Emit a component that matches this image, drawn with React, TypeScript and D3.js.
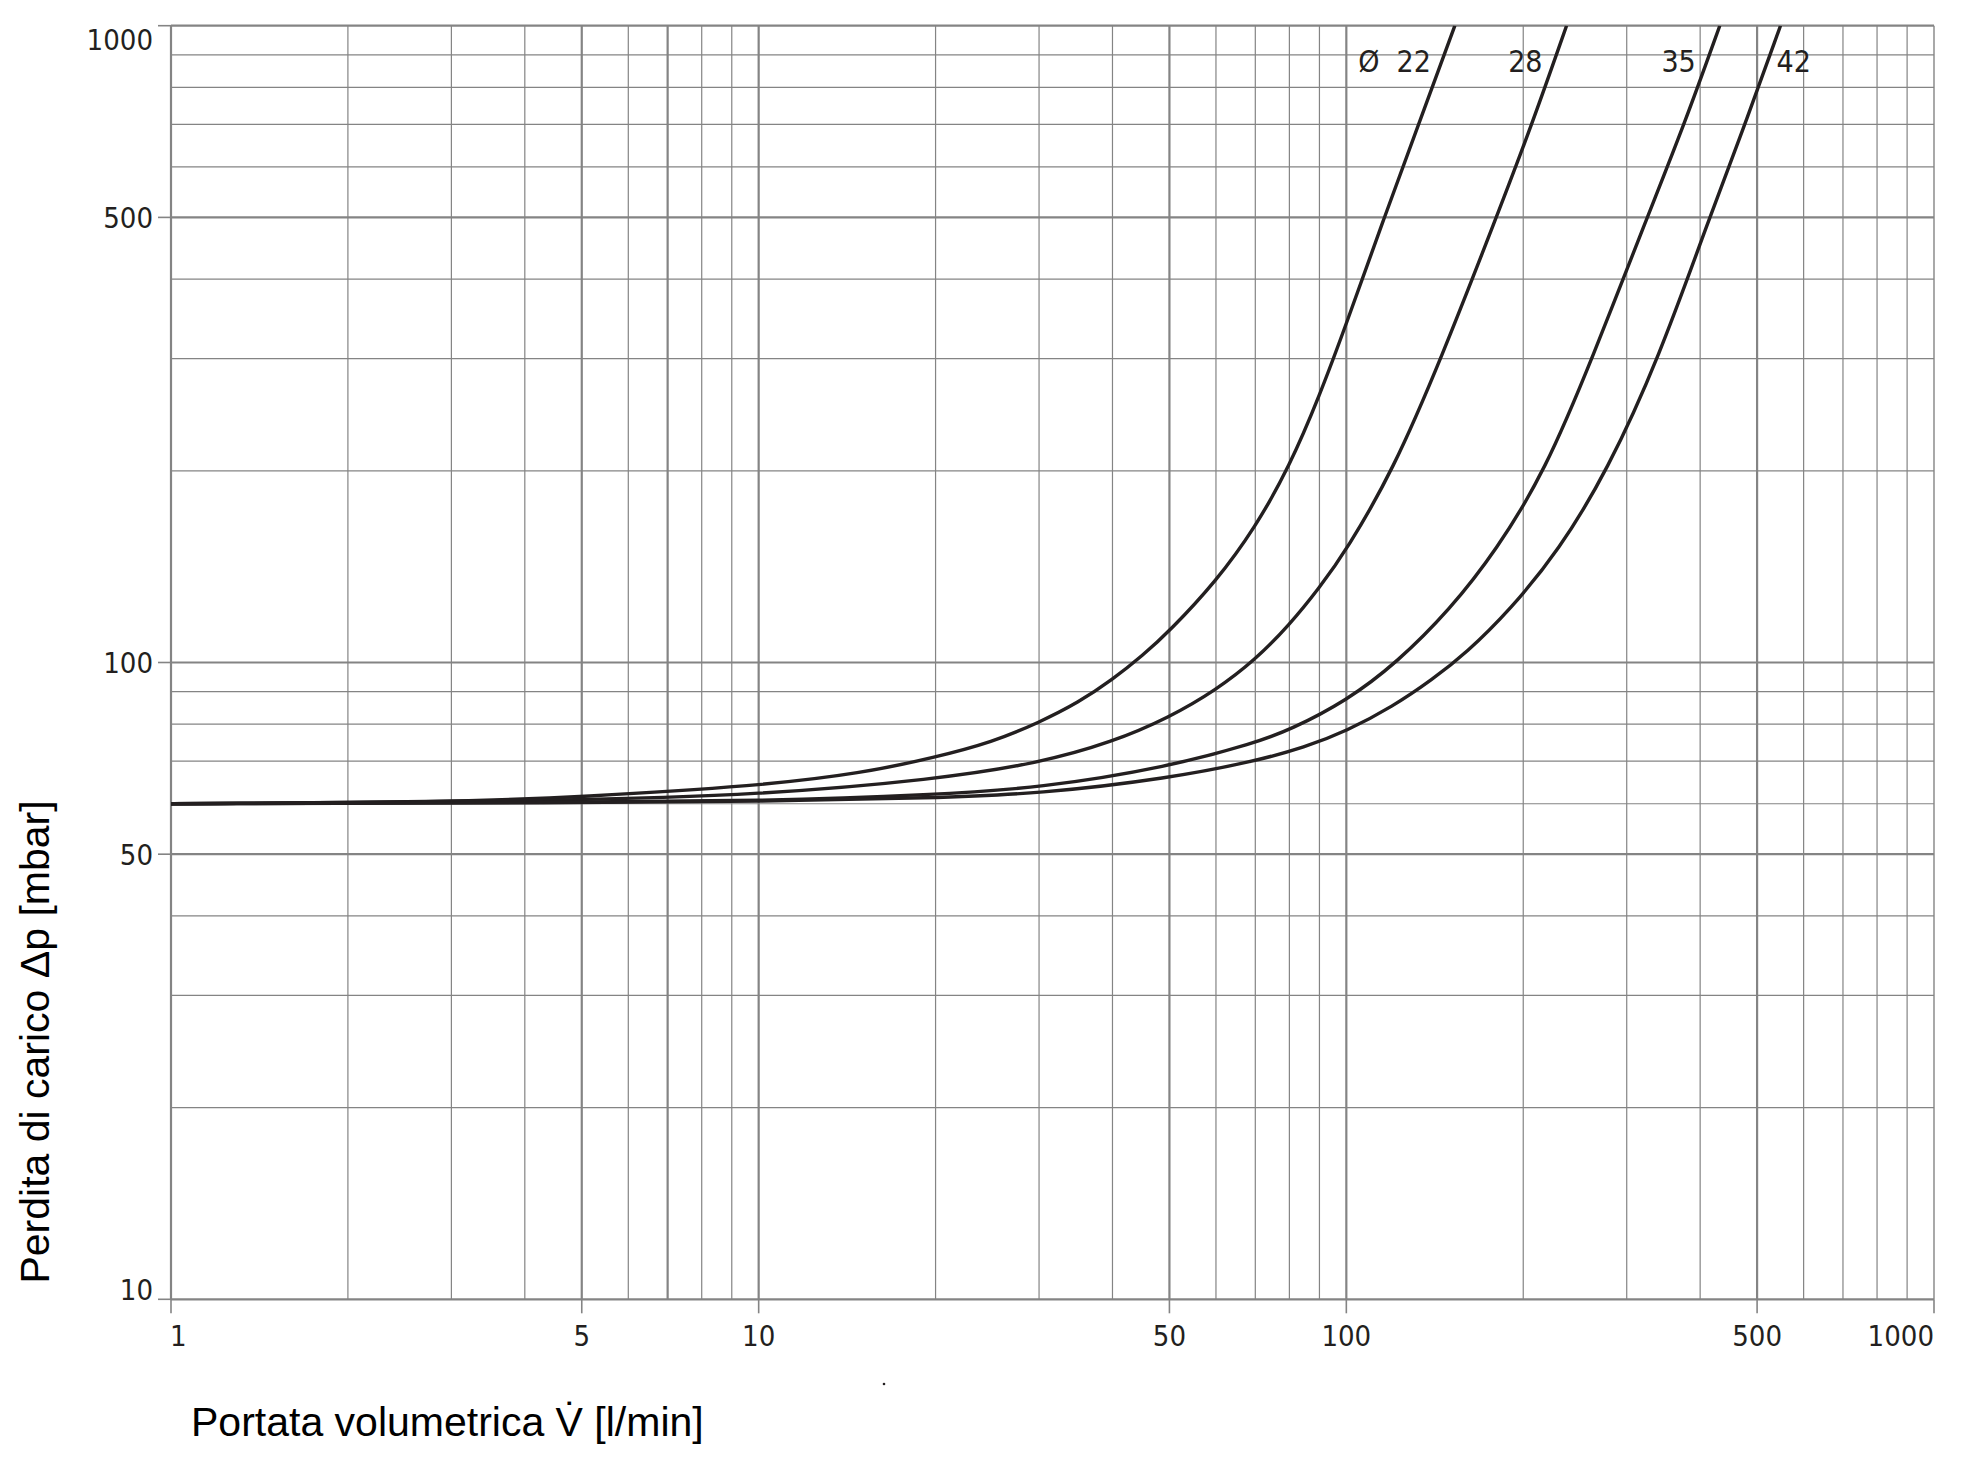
import React from "react";
import * as d3 from "d3";

// ---- data ----
const flowTicks = [1, 5, 10, 50, 100, 500, 1000];
const pressureTicks = [10, 50, 100, 500, 1000];
const flowMajorGrid = [1, 5, 7, 10, 50, 100, 500];
const pressureMajorGrid = [10, 50, 100, 500, 1000];

const seriesNames = ["Ø  22", "28", "35", "42"];

const flow22 = [1, 3, 5, 10, 15, 20, 25, 30, 35, 40, 45, 50, 60, 70, 80, 90, 100, 116, 135, 153];
const dp22 = [60, 60.4, 61.5, 64, 67, 71, 75, 80.5, 86.5, 94, 102.5, 112, 134, 163, 203, 262, 340, 500, 730, 1000];

const flow28 = [1, 5, 10, 20, 30, 40, 50, 60, 70, 80, 90, 100, 120, 145, 180, 207, 237];
const dp28 = [60, 60.7, 62, 65.5, 69.5, 75, 82, 90.5, 101, 114.5, 131, 150, 200, 300, 500, 700, 1000];

const flow35 = [1, 5, 10, 20, 30, 50, 70, 80, 100, 122, 150, 180, 218, 262, 325, 376, 432];
const dp35 = [60, 60.3, 60.6, 62, 63.5, 68.6, 74.8, 78.3, 87, 100, 121, 150, 200, 300, 500, 700, 1000];

const flow42 = [1, 5, 10, 20, 30, 50, 70, 85, 100, 120, 140, 160, 190, 230, 278, 340, 415, 477, 548];
const dp42 = [60, 60.2, 60.5, 61.3, 62.2, 65.8, 70, 73.6, 78, 85.3, 94, 103.5, 121, 150, 200, 300, 500, 700, 1000];

const seriesFlows = [flow22, flow28, flow35, flow42];
const seriesDps = [dp22, dp28, dp35, dp42];

// ---- layout ----
const W = 1973;
const H = 1465;
const left = 171;
const right = 1934;
const top = 25.7;
const bottom = 1299.3;

const gridColor = "#848484";
const inkColor = "#231f20";
const tickFont = "'Liberation Sans Narrow', 'DejaVu Sans Condensed', 'Arial Narrow', sans-serif";
const titleFont = "'Liberation Sans', Arial, Helvetica, sans-serif";

export default function App() {
  const x = d3.scaleLog().domain([1, 1000]).range([left, right]);
  const y = d3.scaleLog().domain([10, 1000]).range([bottom, top]);

  const minorX: number[] = [];
  for (let dec = 1; dec < 1000; dec *= 10) {
    for (let k = 2; k <= 9; k++) minorX.push(dec * k);
  }
  const minorY: number[] = [];
  for (let dec = 10; dec < 1000; dec *= 10) {
    for (let k = 2; k <= 9; k++) minorY.push(dec * k);
  }

  const line = d3
    .line<[number, number]>()
    .x((d) => x(d[0]))
    .y((d) => y(d[1]))
    .curve(d3.curveBasis);

  const series = seriesFlows.map((fl, i) =>
    fl.map((v, j) => [v, seriesDps[i][j]] as [number, number])
  );

  return (
    <svg
      width={W}
      height={H}
      style={{ position: "absolute", left: 0, top: 0, background: "#fff" }}
    >
      <defs>
        <clipPath id="plotClip">
          <rect x={left} y={top} width={right - left} height={bottom - top} />
        </clipPath>
      </defs>
      <rect x={0} y={0} width={W} height={H} fill="#fff" />

      {/* minor grid */}
      {minorX
        .filter((v) => !flowMajorGrid.includes(v))
        .map((v) => (
          <line key={"mx" + v} x1={x(v)} x2={x(v)} y1={top} y2={bottom} stroke={gridColor} strokeWidth={1.2} />
        ))}
      {minorY
        .filter((v) => !pressureMajorGrid.includes(v))
        .map((v) => (
          <line key={"my" + v} x1={left} x2={right} y1={y(v)} y2={y(v)} stroke={gridColor} strokeWidth={1.2} />
        ))}
      {/* right border */}
      <line x1={x(1000)} x2={x(1000)} y1={top} y2={bottom} stroke={gridColor} strokeWidth={1.4} />
      {/* major grid */}
      {flowMajorGrid.map((v) => (
        <line key={"Mx" + v} x1={x(v)} x2={x(v)} y1={top} y2={bottom} stroke={gridColor} strokeWidth={2.2} />
      ))}
      {pressureMajorGrid.map((v) => (
        <line key={"My" + v} x1={left} x2={right} y1={y(v)} y2={y(v)} stroke={gridColor} strokeWidth={2.2} />
      ))}

      {/* ticks */}
      {flowTicks.map((v) => (
        <line key={"tx" + v} x1={x(v)} x2={x(v)} y1={bottom} y2={bottom + 14} stroke={gridColor} strokeWidth={1.6} />
      ))}
      {pressureTicks.map((v) => (
        <line key={"ty" + v} x1={left - 13} x2={left} y1={y(v)} y2={y(v)} stroke={gridColor} strokeWidth={1.6} />
      ))}

      {/* curves */}
      <g clipPath="url(#plotClip)">
        {series.map((s, i) => (
          <path
            key={"c" + i}
            d={line(s) || ""}
            fill="none"
            stroke={inkColor}
            strokeWidth={3.4}
            strokeLinejoin="round"
          />
        ))}
      </g>

      {/* series labels */}
      {series.map((s, i) => {
        const last = s[s.length - 1];
        const xt = x(last[0]);
        const isLast = i === series.length - 1;
        return (
          <text
            key={"sl" + i}
            x={isLast ? xt - 4 : xt - 24}
            y={71.7}
            textAnchor={isLast ? "start" : "end"}
            fontFamily={tickFont}
            fontSize={30}
            fill={inkColor}
            xmlSpace="preserve"
            style={{ whiteSpace: "pre" }}
          >
            {seriesNames[i]}
          </text>
        );
      })}

      {/* y tick labels */}
      {pressureTicks.map((v) => {
        let yy = y(v) + 10.8;
        if (v === 1000) yy = y(v) + 24.3;
        if (v === 10) yy = y(v) + 0.7;
        return (
          <text
            key={"yl" + v}
            x={153}
            y={yy}
            textAnchor="end"
            fontFamily={tickFont}
            fontSize={29}
            fill={inkColor}
          >
            {v}
          </text>
        );
      })}

      {/* x tick labels */}
      {flowTicks.map((v, i) => {
        const anchor = i === 0 ? "start" : i === flowTicks.length - 1 ? "end" : "middle";
        const xx = i === 0 ? x(v) - 1 : x(v);
        return (
          <text
            key={"xl" + v}
            x={xx}
            y={1345.5}
            textAnchor={anchor}
            fontFamily={tickFont}
            fontSize={29}
            fill={inkColor}
          >
            {v}
          </text>
        );
      })}

      {/* axis titles */}
      <text x={191} y={1436} fontFamily={titleFont} fontSize={41} fill="#000">
        {"Portata volumetrica V\u0307 [l/min]"}
      </text>
      <text
        transform={`translate(48.5, 1042) rotate(-90)`}
        textAnchor="middle"
        fontFamily={titleFont}
        fontSize={41}
        fill="#000"
      >
        {"Perdita di carico \u0394p [mbar]"}
      </text>

      {/* stray print dot */}
      <circle cx={884} cy={1384} r={1.3} fill={inkColor} />
    </svg>
  );
}
